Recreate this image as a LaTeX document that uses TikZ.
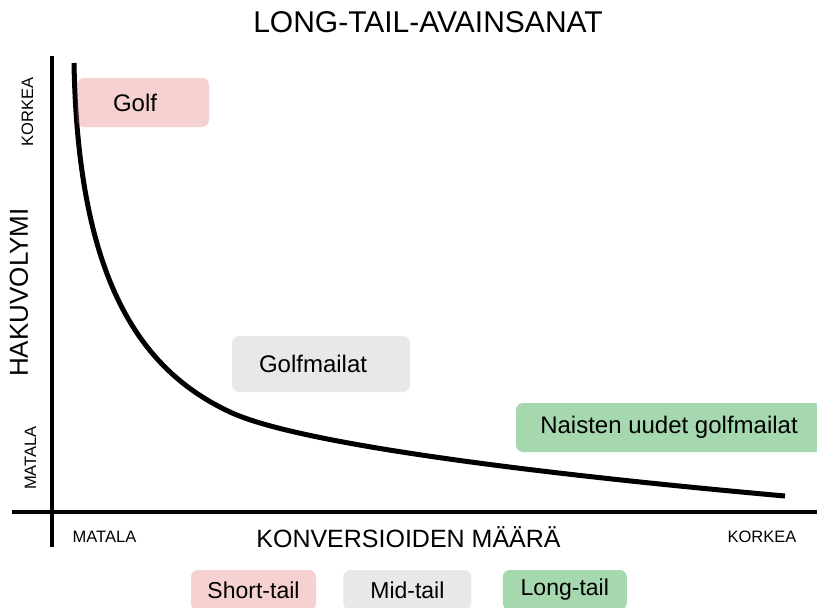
\documentclass[tikz,border=0pt]{standalone}
\usepackage{fontspec}
\setmainfont{Liberation Sans}
\usepackage{xcolor}
\usetikzlibrary{positioning,calc}

\definecolor{shortred}{RGB}{224,102,102}
\definecolor{midgray}{RGB}{232,232,232}
\definecolor{longgreen}{RGB}{166,216,175}

\begin{document}
\begin{tikzpicture}[
    x=1pt, y=-1pt,
    axis/.style={line width=4pt},
    curve/.style={line width=5pt},
    tag/.style={rectangle, rounded corners=7pt, inner ysep=0pt, font=\fontsize{24}{28}\selectfont},
    shortbox/.style={fill=shortred, fill opacity=0.3, text opacity=1},
    legend/.style={rectangle, rounded corners=7pt, minimum height=40pt, font=\fontsize{23}{28}\selectfont},
    axislabel/.style={font=\fontsize{25}{30}\selectfont},
    tick/.style={font=\fontsize{16.5}{20}\selectfont}
]
\useasboundingbox (0,0) rectangle (817,608);

% title
\node[font=\fontsize{30}{36}\selectfont] (title) at (428,22.5) {LONG-TAIL-AVAINSANAT};

% axes
\coordinate (ytop) at (52,56);
\coordinate (ybot) at (52,547);
\coordinate (xleft) at (12,512);
\coordinate (xright) at (817,512);
\draw[axis] (ytop) -- (ybot);
\draw[axis] (xleft) -- (xright);

\node[axislabel, font=\fontsize{26}{30}\selectfont, rotate=90] (ylabel) at (19,292.5) {HAKUVOLYMI};
\node[tick, rotate=90] (yhigh) at (27.5,112) {KORKEA};
\node[tick, rotate=90] (ylow) at (30.5,458) {MATALA};
\node[axislabel, anchor=base] (xlabel) at (408.5,547) {KONVERSIOIDEN MÄÄRÄ};
\node[tick, anchor=base] (xlow) at (104.5,542) {MATALA};
\node[tick, anchor=base] (xhigh) at (762,542) {KORKEA};

% long tail curve
\coordinate (cstart) at (74,63);
\coordinate (cknee) at (230,412);
\coordinate (cend) at (785,496);
\draw[curve] (cstart) .. controls (78,280) and (140,370) .. (cknee)
    .. controls (300,445) and (550,475) .. (cend);

% keywords
\node[tag, shortbox, minimum height=49pt, inner xsep=36pt, text width=60pt, align=left] (golf) at (143,102.5) {Golf};
\node[tag, fill=midgray, minimum height=56pt, inner xsep=27pt, text width=124pt, align=left] (golfmailat) at (321,364) {Golfmailat};
\node[tag, fill=longgreen, minimum height=49pt, minimum width=306pt] (naisten) at (669,427.5) {Naisten uudet golfmailat};

% legend
\node[legend, shortbox, minimum width=125pt] (short) at (253.5,590) {Short-tail};
\node[legend, fill=midgray, minimum width=128pt, right=27pt of short] (mid) {Mid-tail};
\node[legend, fill=longgreen, minimum width=124pt, right=31pt of mid] (long) {Long-tail};

\end{tikzpicture}
\end{document}
